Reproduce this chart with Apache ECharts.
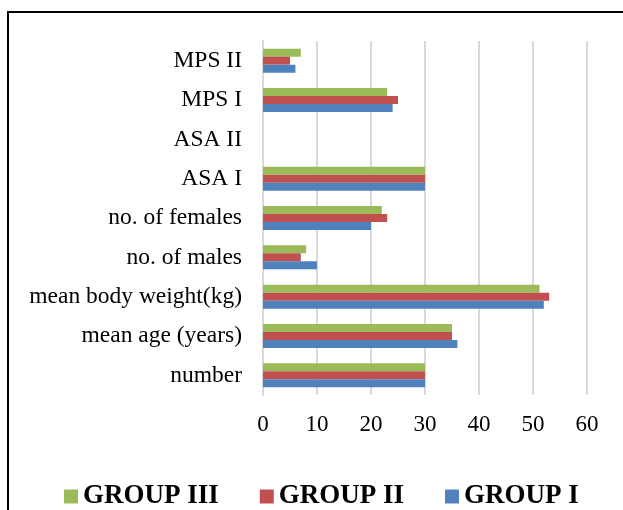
<!DOCTYPE html>
<html>
<head>
<meta charset="utf-8">
<script src="https://cdn.jsdelivr.net/npm/echarts@6/dist/echarts.min.js"></script>
<style>
html,body{margin:0;padding:0;background:#fff;}
#chart{width:623px;height:510px;}
</style>
</head>
<body>
<div id="chart"></div>
<script>
// Patient characteristics per group
const categories = ['number', 'mean age (years)', 'mean body weight(kg)', 'no. of males', 'no. of females', 'ASA I', 'ASA II', 'MPS I', 'MPS II'];
const groupI   = [30, 36, 52, 10, 20, 30, 0, 24, 6];
const groupII  = [30, 35, 53, 7, 23, 30, 0, 25, 5];
const groupIII = [30, 35, 51.2, 8, 22, 30, 0, 23, 7];
const xTicks = [0, 10, 20, 30, 40, 50, 60];

const serif = '"Liberation Serif", "Times New Roman", serif';

const chart = echarts.init(document.getElementById('chart'));
chart.setOption({
  animation: false,
  graphic: [{
    type: 'rect',
    shape: { x: 8, y: 12, width: 700, height: 600 },
    style: { fill: 'none', stroke: '#000', lineWidth: 2 },
    silent: true
  }],
  legend: {
    left: 59,
    top: 478,
    itemWidth: 14,
    itemHeight: 14,
    itemGap: 41,
    icon: 'rect',
    textStyle: { fontFamily: serif, fontWeight: 'bold', fontSize: 27, color: '#000' },
    data: ['GROUP III', 'GROUP II', 'GROUP I']
  },
  grid: { left: 263, right: 36, top: 41, bottom: 115, containLabel: false },
  xAxis: {
    type: 'value',
    min: xTicks[0],
    max: xTicks[xTicks.length - 1],
    interval: 10,
    axisLine: { show: false },
    axisTick: { show: false },
    axisLabel: { fontFamily: serif, fontSize: 23, color: '#000', margin: 18 },
    splitLine: { lineStyle: { color: '#d9d9d9', width: 2 } }
  },
  yAxis: {
    type: 'category',
    data: categories,
    axisLine: { show: true, lineStyle: { color: '#d9d9d9', width: 2 } },
    axisTick: { show: false },
    axisLabel: { fontFamily: serif, fontSize: 23.5, color: '#000', margin: 21 }
  },
  series: [
    { name: 'GROUP III', type: 'bar', data: groupIII, itemStyle: { color: '#9BBB59' }, barCategoryGap: '39%', barGap: '0%' },
    { name: 'GROUP II', type: 'bar', data: groupII, itemStyle: { color: '#C0504D' }, barCategoryGap: '39%', barGap: '0%' },
    { name: 'GROUP I', type: 'bar', data: groupI, itemStyle: { color: '#4F81BD' }, barCategoryGap: '39%', barGap: '0%' }
  ]
});
</script>
</body>
</html>
